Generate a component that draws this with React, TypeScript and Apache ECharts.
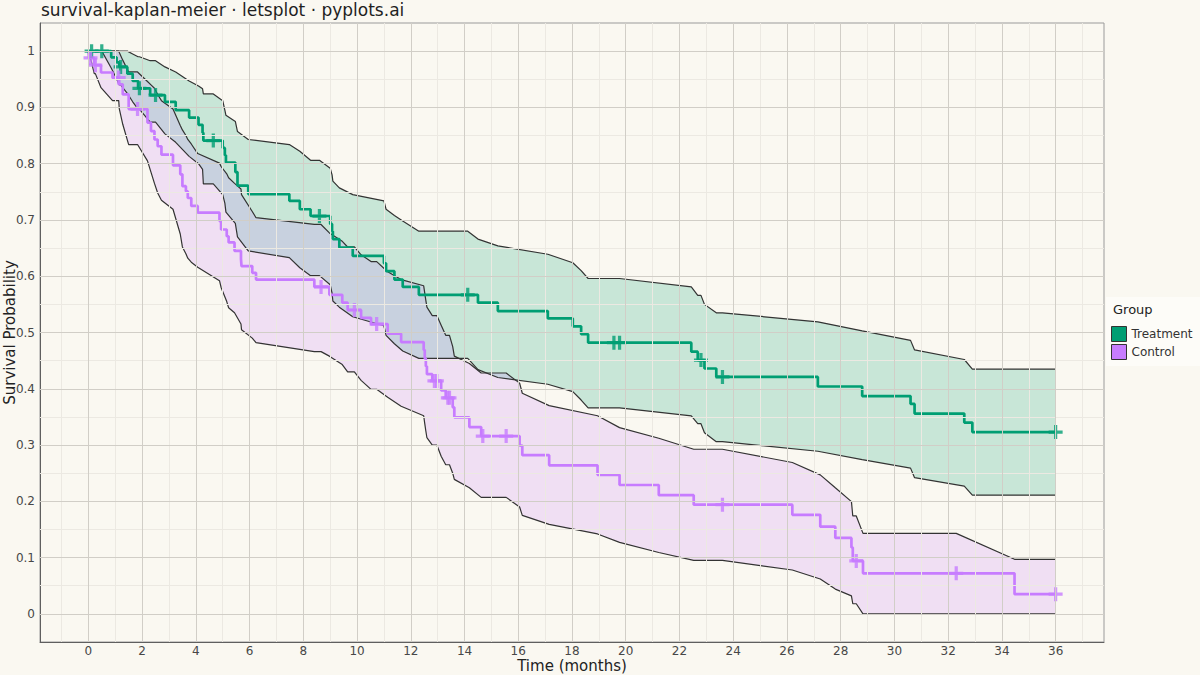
import React, { useEffect, useRef } from "react";
import * as echarts from "echarts";

// ---------- data ----------
const treatmentTime = [0, 0.12, 0.5, 0.85, 1.05, 1.15, 1.2, 1.45, 1.65, 1.85, 1.9, 2.3, 2.5, 2.85, 3.25, 3.75, 4.1, 4.25, 4.28, 4.65, 5.0, 5.08, 5.12, 5.47, 5.55, 5.95, 7.48, 7.87, 8.27, 8.6, 9.0, 9.07, 9.1, 9.34, 9.84, 11.0, 11.08, 11.39, 11.7, 12.3, 14.12, 14.5, 15.24, 17.1, 18.03, 18.34, 18.6, 19.56, 19.77, 22.44, 22.68, 22.8, 22.93, 23.37, 23.6, 27.15, 28.8, 30.6, 30.75, 32.6, 32.9, 36];
const treatmentSurv = [1, 1, 1, 0.989, 0.98, 0.972, 0.972, 0.96, 0.947, 0.934, 0.934, 0.922, 0.922, 0.91, 0.895, 0.882, 0.869, 0.855, 0.841, 0.841, 0.828, 0.815, 0.802, 0.785, 0.761, 0.746, 0.734, 0.719, 0.707, 0.707, 0.693, 0.68, 0.666, 0.651, 0.636, 0.623, 0.609, 0.594, 0.581, 0.567, 0.567, 0.553, 0.538, 0.525, 0.511, 0.497, 0.482, 0.482, 0.482, 0.466, 0.451, 0.451, 0.436, 0.421, 0.421, 0.404, 0.387, 0.373, 0.356, 0.34, 0.323, 0.323];
const treatmentLower = [1, 1, 1, 0.97, 0.951, 0.94, 0.94, 0.925, 0.91, 0.897, 0.897, 0.874, 0.874, 0.853, 0.838, 0.813, 0.8, 0.79, 0.764, 0.764, 0.745, 0.73, 0.714, 0.694, 0.67, 0.645, 0.633, 0.615, 0.601, 0.601, 0.585, 0.57, 0.556, 0.545, 0.528, 0.512, 0.495, 0.48, 0.467, 0.454, 0.454, 0.434, 0.42, 0.408, 0.395, 0.38, 0.366, 0.366, 0.366, 0.352, 0.338, 0.338, 0.322, 0.306, 0.306, 0.289, 0.274, 0.259, 0.242, 0.227, 0.211, 0.211];
const treatmentUpper = [1, 1, 1, 1, 1, 1, 1, 1, 0.995, 0.99, 0.99, 0.983, 0.983, 0.972, 0.963, 0.947, 0.938, 0.933, 0.924, 0.924, 0.912, 0.895, 0.886, 0.875, 0.857, 0.843, 0.834, 0.822, 0.806, 0.806, 0.792, 0.78, 0.769, 0.757, 0.745, 0.734, 0.719, 0.708, 0.698, 0.68, 0.68, 0.666, 0.654, 0.639, 0.624, 0.61, 0.596, 0.596, 0.596, 0.581, 0.566, 0.566, 0.55, 0.535, 0.535, 0.519, 0.503, 0.486, 0.469, 0.452, 0.435, 0.435];
const treatmentCensorTime = [0.12, 0.5, 1.2, 1.9, 2.5, 4.65, 8.6, 14.12, 19.56, 19.77, 22.8, 23.6, 36];
const treatmentCensorSurv = [1, 1, 0.972, 0.934, 0.922, 0.841, 0.707, 0.567, 0.482, 0.482, 0.451, 0.421, 0.323];

const controlTime = [0, 0.02, 0.08, 0.22, 0.26, 0.47, 0.9, 1.13, 1.15, 1.28, 1.5, 1.83, 2.2, 2.33, 2.46, 2.58, 2.72, 3.15, 3.42, 3.5, 3.63, 3.7, 3.83, 4.07, 4.88, 4.94, 5.15, 5.22, 5.44, 5.68, 5.7, 6.1, 6.24, 8.41, 8.66, 8.97, 9.45, 9.65, 9.9, 10.15, 10.52, 10.73, 11.14, 11.64, 12.48, 12.52, 12.56, 12.6, 12.8, 12.88, 12.97, 13.13, 13.3, 13.38, 13.44, 13.56, 13.62, 14.18, 14.62, 14.68, 15.55, 16.05, 16.15, 17.15, 18.95, 19.77, 21.23, 22.53, 23.6, 26.2, 27.24, 27.8, 28.4, 28.45, 28.58, 28.83, 32.3, 34.47, 36];
const controlSurv = [1, 0.988, 0.988, 0.975, 0.975, 0.962, 0.953, 0.953, 0.941, 0.923, 0.897, 0.897, 0.873, 0.858, 0.843, 0.831, 0.816, 0.797, 0.781, 0.76, 0.751, 0.739, 0.725, 0.713, 0.698, 0.683, 0.671, 0.66, 0.645, 0.631, 0.618, 0.606, 0.594, 0.581, 0.581, 0.567, 0.553, 0.54, 0.54, 0.526, 0.515, 0.515, 0.498, 0.483, 0.469, 0.454, 0.44, 0.426, 0.414, 0.414, 0.414, 0.397, 0.384, 0.384, 0.384, 0.367, 0.349, 0.332, 0.316, 0.316, 0.316, 0.299, 0.282, 0.264, 0.247, 0.229, 0.211, 0.194, 0.194, 0.176, 0.155, 0.135, 0.118, 0.094, 0.094, 0.072, 0.072, 0.035, 0.035];
const controlLower = [1, 0.987, 0.987, 0.96, 0.96, 0.935, 0.912, 0.912, 0.898, 0.87, 0.834, 0.834, 0.805, 0.785, 0.765, 0.748, 0.735, 0.719, 0.675, 0.652, 0.64, 0.632, 0.625, 0.616, 0.592, 0.58, 0.555, 0.544, 0.535, 0.515, 0.505, 0.49, 0.482, 0.466, 0.466, 0.458, 0.443, 0.43, 0.43, 0.415, 0.399, 0.399, 0.385, 0.369, 0.352, 0.338, 0.325, 0.313, 0.3, 0.3, 0.3, 0.28, 0.265, 0.265, 0.265, 0.25, 0.239, 0.224, 0.207, 0.207, 0.207, 0.19, 0.175, 0.159, 0.142, 0.127, 0.109, 0.095, 0.095, 0.078, 0.062, 0.044, 0.032, 0.018, 0.018, 0, 0, 0, 0];
const controlUpper = [1, 1, 1, 1, 1, 1, 1, 1, 1, 0.984, 0.963, 0.963, 0.946, 0.94, 0.934, 0.923, 0.912, 0.897, 0.868, 0.86, 0.85, 0.843, 0.835, 0.818, 0.801, 0.795, 0.782, 0.775, 0.765, 0.755, 0.745, 0.715, 0.704, 0.692, 0.692, 0.677, 0.662, 0.652, 0.652, 0.638, 0.626, 0.626, 0.608, 0.594, 0.583, 0.57, 0.557, 0.545, 0.53, 0.53, 0.53, 0.513, 0.495, 0.495, 0.495, 0.475, 0.458, 0.445, 0.428, 0.428, 0.428, 0.41, 0.392, 0.37, 0.352, 0.331, 0.312, 0.2925, 0.2925, 0.269, 0.247, 0.224, 0.1995, 0.174, 0.174, 0.143, 0.143, 0.097, 0.097];
const controlCensorTime = [0.08, 0.26, 1.13, 1.83, 8.66, 9.9, 10.73, 12.88, 12.97, 13.38, 13.44, 14.68, 15.55, 23.6, 28.58, 32.3, 36];
const controlCensorSurv = [0.988, 0.975, 0.953, 0.897, 0.581, 0.54, 0.515, 0.414, 0.414, 0.384, 0.384, 0.316, 0.316, 0.194, 0.094, 0.072, 0.035];

const groupNames = ["Treatment", "Control"];
const xMajorTicks = [0, 2, 4, 6, 8, 10, 12, 14, 16, 18, 20, 22, 24, 26, 28, 30, 32, 34, 36];
const xMinorTicks = [-1, 1, 3, 5, 7, 9, 11, 13, 15, 17, 19, 21, 23, 25, 27, 29, 31, 33, 35, 37];
const yMajorTicks = [0, 0.1, 0.2, 0.3, 0.4, 0.5, 0.6, 0.7, 0.8, 0.9, 1];
const yMinorTicks = [0.05, 0.15, 0.25, 0.35, 0.45, 0.55, 0.65, 0.75, 0.85, 0.95];

// ---------- styling ----------
const BG = "#FAF8F1";
const TEAL = "#009E73";
const VIOLET = "#C77CFF";
const TEAL_FILL = "rgba(0,158,115,0.2)";
const VIOLET_FILL = "rgba(199,124,255,0.2)";
const OUTLINE = "#333333";
const MAJOR = "#D1CEC7";
const MINOR = "#ECE9E2";
const FONT = "DejaVu Sans";
const PLUS = "path://M5,0H8V5H13V8H8V13H5V8H0V5H5Z";

function pairs(xs: number[], ys: number[]) {
  return xs.map((x, i) => [x, ys[i]]);
}

function bandSeries(name: string, time: number[], lower: number[], upper: number[], fill: string) {
  return {
    type: "custom",
    name,
    silent: true,
    z: 1,
    data: time.map((t, i) => [t, lower[i], upper[i]]),
    encode: { x: 0, y: [1, 2] },
    renderItem: (params: any, api: any) => {
      if (params.dataIndex !== 0) return null;
      const top = time.map((t, i) => api.coord([t, upper[i]]));
      const bottom = time.map((t, i) => api.coord([t, lower[i]])).reverse();
      return {
        type: "polygon",
        shape: { points: top.concat(bottom) },
        style: { fill, stroke: "none" },
      };
    },
  };
}

function outlineSeries(name: string, time: number[], vals: number[]) {
  return {
    type: "line",
    name,
    data: pairs(time, vals),
    symbol: "none",
    silent: true,
    z: 2,
    lineStyle: { color: OUTLINE, width: 1.2 },
    itemStyle: { color: OUTLINE },
    emphasis: { disabled: true },
  };
}

function stepSeries(name: string, time: number[], surv: number[], color: string) {
  return {
    type: "line",
    name,
    data: pairs(time, surv),
    step: "end",
    symbol: "none",
    z: 3,
    color,
    itemStyle: { color },
    lineStyle: { color, width: 2.7 },
    emphasis: { disabled: true },
  };
}

function censorSeries(name: string, time: number[], surv: number[], color: string) {
  return {
    type: "scatter",
    name,
    data: pairs(time, surv),
    symbol: PLUS,
    symbolSize: 14,
    z: 4,
    itemStyle: { color },
    emphasis: { disabled: true },
  };
}

const fmtX = (v: number) => (Math.abs(v - Math.round(v)) < 1e-6 ? String(Math.round(v)) : "");
const fmtY = (v: number) => {
  const r = Math.round(v * 10) / 10;
  return Math.abs(v - r) < 1e-6 ? String(Number(r.toFixed(1))) : "";
};

export default function App() {
  const ref = useRef<HTMLDivElement>(null);

  useEffect(() => {
    document.body.style.margin = "0";
    document.body.style.background = BG;
    if (!ref.current) return;
    const chart = echarts.init(ref.current, undefined, { renderer: "svg" });

    const gridLines = [
      ...xMinorTicks.map((v) => ({ xAxis: v, lineStyle: { color: MINOR, width: 1, type: "solid" } })),
      ...yMinorTicks.map((v) => ({ yAxis: v, lineStyle: { color: MINOR, width: 1, type: "solid" } })),
      ...xMajorTicks.map((v) => ({ xAxis: v, lineStyle: { color: MAJOR, width: 1, type: "solid" } })),
      ...yMajorTicks.map((v) => ({ yAxis: v, lineStyle: { color: MAJOR, width: 1, type: "solid" } })),
    ];

    chart.setOption({
      animation: false,
      backgroundColor: BG,
      textStyle: { fontFamily: FONT },
      title: [
        {
          text: "survival-kaplan-meier · letsplot · pyplots.ai",
          left: 41,
          top: 1,
          padding: 0,
          textStyle: { fontFamily: FONT, fontSize: 17, fontWeight: "normal", color: "#1f1f1f" },
        },
        {
          text: "Group",
          left: 1113,
          top: 303,
          padding: 0,
          textStyle: { fontFamily: FONT, fontSize: 13, fontWeight: "normal", color: "#222" },
        },
      ],
      graphic: [
        {
          type: "rect",
          left: 1106,
          top: 297,
          z: 0,
          silent: true,
          shape: { width: 94, height: 69 },
          style: { fill: "#FDFCF8" },
        },
      ],
      legend: {
        data: groupNames,
        orient: "vertical",
        left: 1111,
        top: 326,
        padding: 0,
        itemGap: 2,
        itemWidth: 15,
        itemHeight: 15,
        icon: "rect",
        selectedMode: false,
        itemStyle: { borderColor: "#333", borderWidth: 1 },
        textStyle: { fontFamily: FONT, fontSize: 12, color: "#333" },
      },
      grid: {
        left: 40,
        right: 96,
        top: 23,
        bottom: 33,
        show: true,
        borderColor: "#9a9a9a",
        borderWidth: 1,
        backgroundColor: "transparent",
        containLabel: false,
        outerBoundsMode: "none",
      },
      xAxis: {
        type: "value",
        min: -1.8,
        max: 37.8,
        splitNumber: 20,
        minInterval: 2,
        maxInterval: 2,
        axisLine: { show: true, onZero: false, lineStyle: { color: "#5f5f5f", width: 1 } },
        axisTick: { show: false },
        splitLine: { show: false },
        minorSplitLine: { show: false },
        axisLabel: { color: "#474747", fontSize: 12, margin: 3, fontFamily: FONT, formatter: fmtX },
        name: "Time (months)",
        nameLocation: "middle",
        nameGap: 16,
        nameMoveOverlap: false,
        nameTextStyle: { fontSize: 15, color: "#222", fontFamily: FONT },
      },
      yAxis: {
        type: "value",
        min: -0.05,
        max: 1.05,
        splitNumber: 11,
        minInterval: 0.1,
        maxInterval: 0.1,
        axisLine: { show: true, onZero: false, lineStyle: { color: "#5f5f5f", width: 1 } },
        axisTick: { show: false },
        splitLine: { show: false },
        axisLabel: { color: "#474747", fontSize: 12, margin: 5, fontFamily: FONT, formatter: fmtY },
        name: "Survival Probability",
        nameLocation: "middle",
        nameRotate: 90,
        nameGap: 23,
        nameMoveOverlap: false,
        nameTextStyle: { fontSize: 15, color: "#222", fontFamily: FONT },
      },
      series: [
        {
          type: "line",
          name: "gridlines",
          data: [],
          silent: true,
          z: 0,
          markLine: {
            silent: true,
            symbol: ["none", "none"],
            label: { show: false },
            emphasis: { disabled: true },
            animation: false,
            data: gridLines,
          },
        },
        bandSeries("Treatment band", treatmentTime, treatmentLower, treatmentUpper, TEAL_FILL),
        bandSeries("Control band", controlTime, controlLower, controlUpper, VIOLET_FILL),
        outlineSeries("Treatment lower", treatmentTime, treatmentLower),
        outlineSeries("Treatment upper", treatmentTime, treatmentUpper),
        outlineSeries("Control lower", controlTime, controlLower),
        outlineSeries("Control upper", controlTime, controlUpper),
        stepSeries(groupNames[0], treatmentTime, treatmentSurv, TEAL),
        stepSeries(groupNames[1], controlTime, controlSurv, VIOLET),
        censorSeries("Treatment censored", treatmentCensorTime, treatmentCensorSurv, TEAL),
        censorSeries("Control censored", controlCensorTime, controlCensorSurv, VIOLET),
      ],
    });

    return () => chart.dispose();
  }, []);

  return <div ref={ref} style={{ width: 1200, height: 675, background: BG }} />;
}
